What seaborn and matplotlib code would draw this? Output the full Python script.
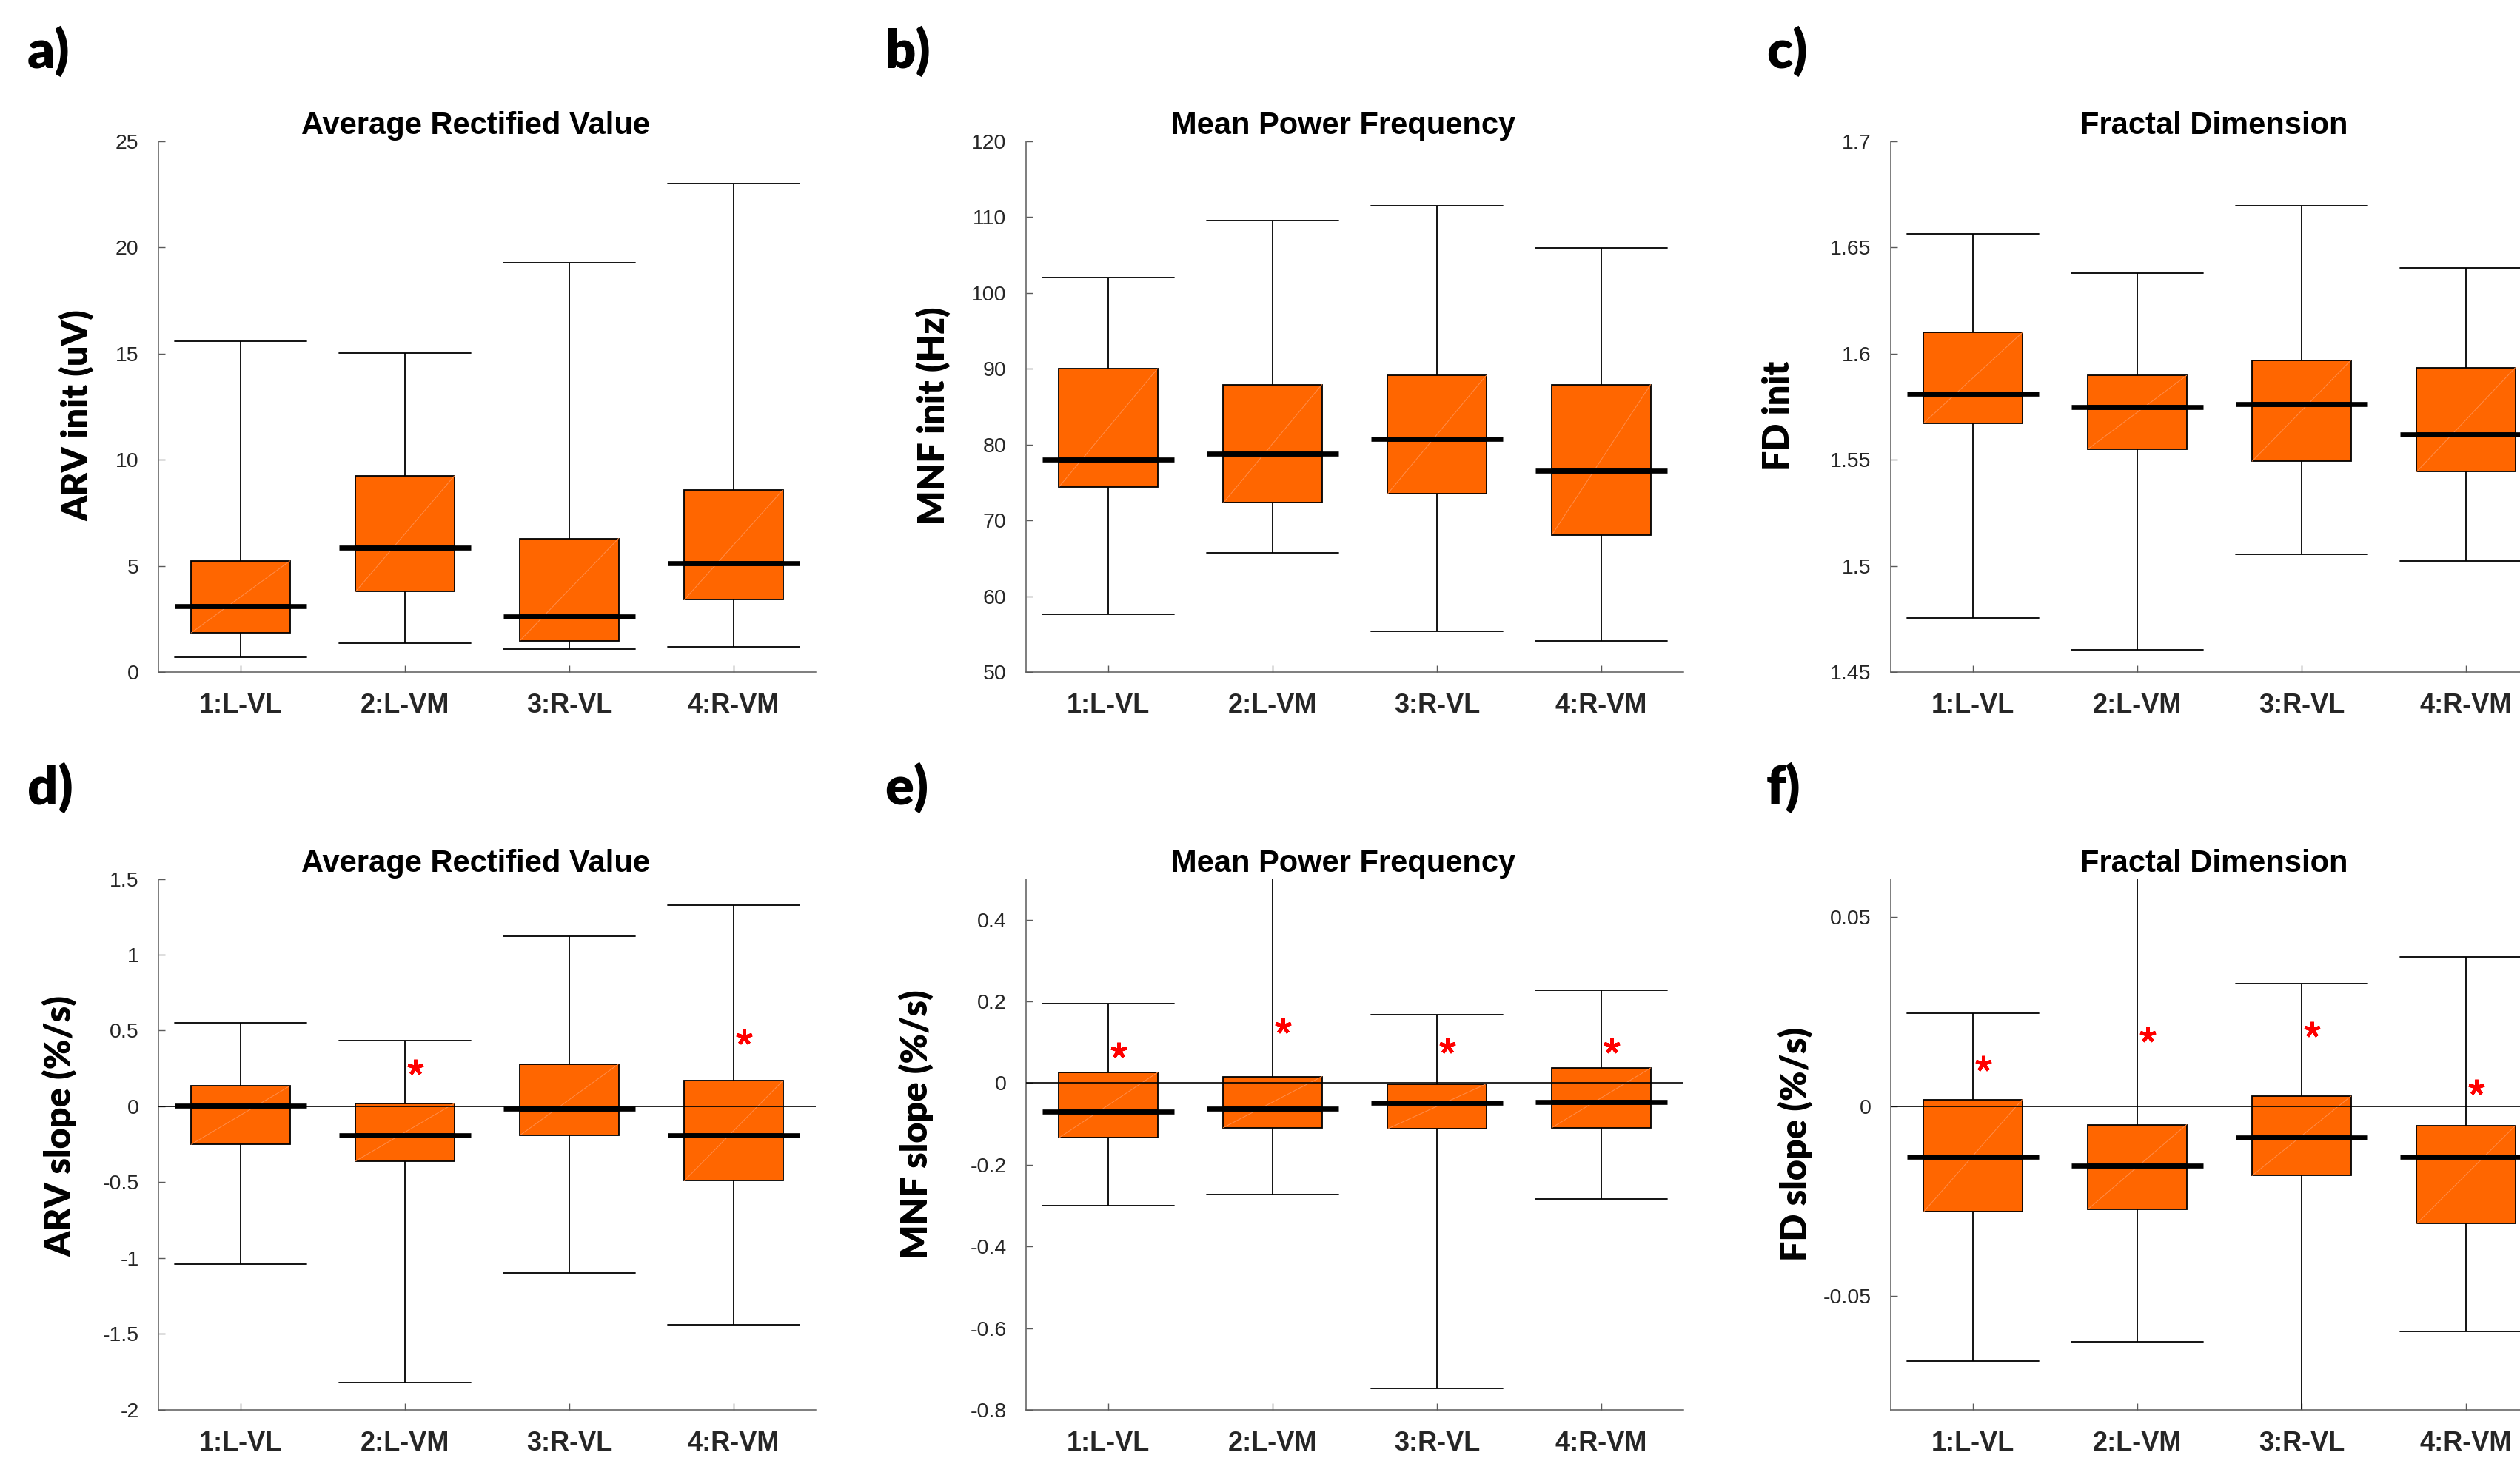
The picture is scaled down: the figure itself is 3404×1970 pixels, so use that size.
import numpy as np
import pandas as pd
import matplotlib
matplotlib.use("Agg")
import matplotlib.pyplot as plt
from matplotlib.ticker import FixedLocator, FuncFormatter
import seaborn as sns

# ---------------- data ----------------
muscles = ["1:L-VL", "2:L-VM", "3:R-VL", "4:R-VM"]

# a) ARV init (uV)
arv_init_lo = [0.68, 1.37, 1.07, 1.20]
arv_init_q1 = [1.85, 3.79, 1.48, 3.40]
arv_init_med = [3.09, 5.84, 2.61, 5.12]
arv_init_q3 = [5.23, 9.23, 6.29, 8.58]
arv_init_hi = [15.59, 15.03, 19.27, 23.00]

# b) MNF init (Hz)
mnf_init_lo = [57.6, 65.7, 55.4, 54.1]
mnf_init_q1 = [74.4, 72.3, 73.5, 68.1]
mnf_init_med = [78.0, 78.8, 80.7, 76.5]
mnf_init_q3 = [90.0, 87.9, 89.1, 87.9]
mnf_init_hi = [102.0, 109.5, 111.5, 105.9]

# c) FD init
fd_init_lo = [1.4755, 1.4605, 1.5055, 1.5023]
fd_init_q1 = [1.5672, 1.5550, 1.5493, 1.5443]
fd_init_med = [1.5811, 1.5748, 1.5761, 1.5617]
fd_init_q3 = [1.6098, 1.5896, 1.5968, 1.5933]
fd_init_hi = [1.6562, 1.6379, 1.6697, 1.6401]

# d) ARV slope (%/s)
arv_slope_lo = [-1.04, -1.82, -1.10, -1.44]
arv_slope_q1 = [-0.25, -0.36, -0.19, -0.49]
arv_slope_med = [0.005, -0.19, -0.015, -0.19]
arv_slope_q3 = [0.135, 0.02, 0.28, 0.17]
arv_slope_hi = [0.55, 0.435, 1.12, 1.325]
arv_slope_star = [np.nan, 0.26, np.nan, 0.46]

# e) MNF slope (%/s)
mnf_slope_lo = [-0.300, -0.272, -0.748, -0.284]
mnf_slope_q1 = [-0.134, -0.109, -0.112, -0.109]
mnf_slope_med = [-0.070, -0.062, -0.049, -0.047]
mnf_slope_q3 = [0.026, 0.016, -0.002, 0.037]
mnf_slope_hi = [0.195, 0.56, 0.168, 0.228]
mnf_slope_star = [0.080, 0.140, 0.092, 0.092]

# f) FD slope (%/s)
fd_slope_lo = [-0.0672, -0.0621, -0.085, -0.0593]
fd_slope_q1 = [-0.0278, -0.0271, -0.0182, -0.0309]
fd_slope_med = [-0.0132, -0.0157, -0.0082, -0.0133]
fd_slope_q3 = [0.0018, -0.0048, 0.0027, -0.0051]
fd_slope_hi = [0.0245, 0.065, 0.0323, 0.0394]
fd_slope_star = [0.0113, 0.019, 0.0202, 0.005]

arv_init_ticks = [0, 5, 10, 15, 20, 25]
mnf_init_ticks = [50, 60, 70, 80, 90, 100, 110, 120]
fd_init_ticks = [1.45, 1.5, 1.55, 1.6, 1.65, 1.7]
arv_slope_ticks = [-2, -1.5, -1, -0.5, 0, 0.5, 1, 1.5]
mnf_slope_ticks = [-0.8, -0.6, -0.4, -0.2, 0, 0.2, 0.4]
fd_slope_ticks = [-0.05, 0, 0.05]

# ---------------- panel setup (layout / style) ----------------
panels = [
    dict(letter="a)", title="Average Rectified Value", ylabel="ARV init (uV)",
         stats=(arv_init_lo, arv_init_q1, arv_init_med, arv_init_q3, arv_init_hi),
         star=None, ticks=arv_init_ticks, ylim=(0, 25), zero=False,
         pos=(214, 190.6), lab=(-0.124, 0.483), title_x=0.482, letter_xy=(37, 92)),
    dict(letter="b)", title="Mean Power Frequency", ylabel="MNF init (Hz)",
         stats=(mnf_init_lo, mnf_init_q1, mnf_init_med, mnf_init_q3, mnf_init_hi),
         star=None, ticks=mnf_init_ticks, ylim=(50, 120), zero=False,
         pos=(1386, 190.6), lab=(-0.141, 0.483), title_x=0.483, letter_xy=(1195, 92)),
    dict(letter="c)", title="Fractal Dimension", ylabel="FD init",
         stats=(fd_init_lo, fd_init_q1, fd_init_med, fd_init_q3, fd_init_hi),
         star=None, ticks=fd_init_ticks, ylim=(1.45, 1.7), zero=False,
         pos=(2554, 190.6), lab=(-0.171, 0.482), title_x=0.492, letter_xy=(2386, 92)),
    dict(letter="d)", title="Average Rectified Value", ylabel="ARV slope (%/s)",
         stats=(arv_slope_lo, arv_slope_q1, arv_slope_med, arv_slope_q3, arv_slope_hi),
         star=arv_slope_star, ticks=arv_slope_ticks, ylim=(-2, 1.5), zero=True,
         pos=(214, 1187.5), lab=(-0.150, 0.535), title_x=0.482, letter_xy=(37, 1087)),
    dict(letter="e)", title="Mean Power Frequency", ylabel="MNF slope (%/s)",
         stats=(mnf_slope_lo, mnf_slope_q1, mnf_slope_med, mnf_slope_q3, mnf_slope_hi),
         star=mnf_slope_star, ticks=mnf_slope_ticks, ylim=(-0.8, 0.5), zero=True,
         pos=(1386, 1187.5), lab=(-0.167, 0.537), title_x=0.483, letter_xy=(1195, 1087)),
    dict(letter="f)", title="Fractal Dimension", ylabel="FD slope (%/s)",
         stats=(fd_slope_lo, fd_slope_q1, fd_slope_med, fd_slope_q3, fd_slope_hi),
         star=fd_slope_star, ticks=fd_slope_ticks, ylim=(-0.08, 0.06), zero=True,
         pos=(2554, 1187.5), lab=(-0.145, 0.500), title_x=0.492, letter_xy=(2386, 1087)),
]

W, H = 3405, 1970
AX_W, AX_H = 888, 717.4
ORANGE = "#FF6600"
SPINE = "#5a5a5a"
TXT = "#262626"

sns.set_style("ticks")
plt.rcParams["font.family"] = ["Liberation Sans", "DejaVu Sans"]
LABEL_FONT = ["Lato", "DejaVu Sans"]

fig = plt.figure(figsize=(W / 100, H / 100), dpi=100)


def five_num_frame(lo, q1, med, q3, hi):
    rows = []
    for m, vals in zip(muscles, zip(lo, q1, med, q3, hi)):
        for v in vals:
            rows.append((m, v))
    return pd.DataFrame(rows, columns=["muscle", "value"])


for p in panels:
    left, top = p["pos"]
    ax = fig.add_axes([left / W, 1 - (top + AX_H) / H, AX_W / W, AX_H / H])
    df = five_num_frame(*p["stats"])
    sns.boxplot(data=df, x="muscle", y="value", order=muscles, ax=ax,
                color=ORANGE, saturation=1, width=0.6, whis=(0, 100),
                linecolor="black", linewidth=1.3, showfliers=False,
                capwidths=0.8,
                medianprops=dict(linewidth=4.8, color="black"))

    # faint diagonal rendering seam inside each box
    for patch in list(ax.patches):
        ext = patch.get_path().get_extents()
        ax.plot([ext.x0, ext.x1], [ext.y0, ext.y1], color="#ff8d4a",
                lw=0.7, zorder=patch.get_zorder() + 0.05)

    xpos = np.arange(len(muscles))
    if p["zero"]:
        ax.axhline(0, color="black", lw=1.2, zorder=4)
    ax.hlines(p["stats"][2], xpos - 0.4, xpos + 0.4, colors="black",
              lw=4.8, zorder=5, capstyle="butt")

    if p["star"] is not None:
        ax.plot(xpos + 0.065, p["star"], ls="none", marker=(5, 2, 0),
                ms=15.5, mew=3.4, color="red", zorder=6)

    ax.set_xlim(-0.5, 3.5)
    ax.set_ylim(*p["ylim"])
    ax.yaxis.set_major_locator(FixedLocator(p["ticks"]))
    ax.yaxis.set_major_formatter(FuncFormatter(lambda v, pos: "%g" % round(v, 6)))

    for side in ["top", "right"]:
        ax.spines[side].set_visible(False)
    for side in ["left", "bottom"]:
        ax.spines[side].set_color(SPINE)
        ax.spines[side].set_linewidth(1.1)

    ax.tick_params(axis="y", direction="in", length=6.5, width=1.0, color=SPINE,
                   labelsize=20.5, labelcolor=TXT, pad=19)
    ax.tick_params(axis="x", direction="in", length=6.5, width=1.0, color=SPINE,
                   labelsize=26, labelcolor=TXT, pad=20)
    for lbl in ax.get_xticklabels():
        lbl.set_fontweight("bold")

    ax.set_xlabel("")
    ax.set_ylabel(p["ylabel"], fontsize=35, fontweight="heavy",
                  family=LABEL_FONT, color="black", va="center")
    ax.yaxis.set_label_coords(*p["lab"])
    ax.set_title(p["title"], fontsize=30, fontweight="bold", color="black",
                 x=p["title_x"], pad=7)

    lx, ly = p["letter_xy"]
    fig.text(lx / W, 1 - ly / H, p["letter"], fontsize=52, fontweight="heavy",
             family=LABEL_FONT, ha="left", va="baseline", color="black")

fig.savefig("out.png", dpi=100)
